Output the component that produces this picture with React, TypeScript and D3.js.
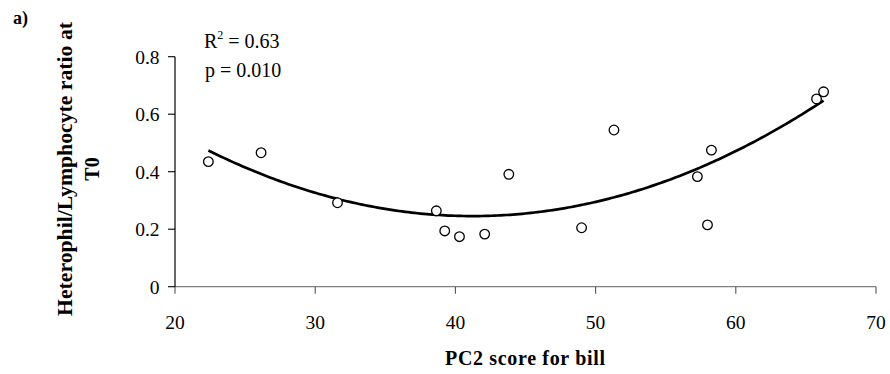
import React from "react";
import * as d3 from "d3";

const pc2Scores = [22.38, 26.14, 31.59, 38.64, 39.24, 40.29, 42.09, 43.81, 49.0, 51.31, 57.26, 57.98, 58.26, 65.76, 66.26];
const hlRatios = [0.435, 0.466, 0.292, 0.264, 0.194, 0.174, 0.183, 0.391, 0.205, 0.545, 0.383, 0.215, 0.475, 0.653, 0.678];
const xTicks = [20, 30, 40, 50, 60, 70];
const yTicks = [0, 0.2, 0.4, 0.6, 0.8];
const yTickLabels = ["0", "0.2", "0.4", "0.6", "0.8"];
const statR2 = "0.63";
const statP = "0.010";
const panelLabel = "a)";
const xTitle = "PC2 score for bill";
const yTitleLines = ["Heterophil/Lymphocyte ratio at", "T0"];

// least-squares quadratic fit (polynomial trendline of order 2)
function quadFit(xs: number[], ys: number[]): number[] {
  const S = [0, 0, 0, 0, 0];
  const T = [0, 0, 0];
  xs.forEach((x, i) => {
    for (let k = 0; k < 5; k++) S[k] += Math.pow(x, k);
    for (let k = 0; k < 3; k++) T[k] += Math.pow(x, k) * ys[i];
  });
  const M = [
    [S[0], S[1], S[2], T[0]],
    [S[1], S[2], S[3], T[1]],
    [S[2], S[3], S[4], T[2]],
  ];
  for (let c = 0; c < 3; c++) {
    let p = c;
    for (let r = c + 1; r < 3; r++) if (Math.abs(M[r][c]) > Math.abs(M[p][c])) p = r;
    [M[c], M[p]] = [M[p], M[c]];
    for (let r = 0; r < 3; r++) {
      if (r === c) continue;
      const f = M[r][c] / M[c][c];
      for (let k = c; k < 4; k++) M[r][k] -= f * M[c][k];
    }
  }
  return [M[0][3] / M[0][0], M[1][3] / M[1][1], M[2][3] / M[2][2]];
}

const FONT = "'Liberation Serif', 'Times New Roman', serif";

export default function App() {
  const x = d3.scaleLinear().domain([20, 70]).range([175, 876]);
  const y = d3.scaleLinear().domain([0, 0.8]).range([286.7, 56.7]);
  const [c0, c1, c2] = quadFit(pc2Scores, hlRatios);
  const xmin = d3.min(pc2Scores) as number;
  const xmax = d3.max(pc2Scores) as number;
  const samples = d3.range(0, 201).map((i) => xmin + ((xmax - xmin) * i) / 200);
  const line = d3
    .line<number>()
    .x((v) => x(v))
    .y((v) => y(c0 + c1 * v + c2 * v * v));

  const y0 = y(0);
  const x0 = x(20);

  return (
    <svg
      width={890}
      height={374}
      style={{ position: "absolute", left: 0, top: 0, background: "#fff" }}
      fontFamily={FONT}
    >
      <rect x={0} y={0} width={890} height={374} fill="#fff" />
      {/* panel label */}
      <text x={13} y={24} fontSize={18} fontWeight="bold" fill="#000">
        {panelLabel}
      </text>

      {/* x axis */}
      <line x1={x0} x2={x(70)} y1={y0} y2={y0} stroke="#808080" strokeWidth={1.3} />
      {xTicks.map((t) => (
        <g key={"xt" + t}>
          <line x1={x(t)} x2={x(t)} y1={y0} y2={y0 + 7} stroke="#555" strokeWidth={1.1} />
          <text x={x(t)} y={329} textAnchor="middle" fontSize={19.5} fill="#000">
            {t}
          </text>
        </g>
      ))}

      {/* y axis */}
      <line x1={x0} x2={x0} y1={y0} y2={y(0.8)} stroke="#000" strokeWidth={1.2} />
      {yTicks.map((t, i) => (
        <g key={"yt" + t}>
          <line x1={x0 - 7} x2={x0} y1={y(t)} y2={y(t)} stroke="#000" strokeWidth={1.1} />
          <text x={159.5} y={y(t) + 6.8} textAnchor="end" fontSize={19.5} fill="#000">
            {yTickLabels[i]}
          </text>
        </g>
      ))}

      {/* trendline */}
      <path d={line(samples) || ""} fill="none" stroke="#000" strokeWidth={2.7} />

      {/* points */}
      {pc2Scores.map((v, i) => (
        <circle
          key={"p" + i}
          cx={x(v)}
          cy={y(hlRatios[i])}
          r={4.8}
          fill="#fff"
          stroke="#000"
          strokeWidth={1.3}
        />
      ))}

      {/* stats */}
      <text x={204} y={48} fontSize={20} fill="#000">
        R
        <tspan fontSize={12} dy={-9}>2</tspan>
        <tspan dy={9}>{" = " + statR2}</tspan>
      </text>
      <text x={205} y={76.5} fontSize={20} fill="#000">
        {"p = " + statP}
      </text>

      {/* axis titles */}
      <text
        x={525}
        y={365}
        textAnchor="middle"
        fontSize={20}
        fontWeight="bold"
        fill="#000"
        textLength={160}
        lengthAdjust="spacing"
      >
        {xTitle}
      </text>
      <text
        transform="translate(72,169) rotate(-90)"
        textAnchor="middle"
        fontSize={20}
        fontWeight="bold"
        fill="#000"
      >
        <tspan x={0} dy={0} textLength={294} lengthAdjust="spacingAndGlyphs">
          {yTitleLines[0]}
        </tspan>
        <tspan x={0} dy={26.7}>{yTitleLines[1]}</tspan>
      </text>
    </svg>
  );
}
